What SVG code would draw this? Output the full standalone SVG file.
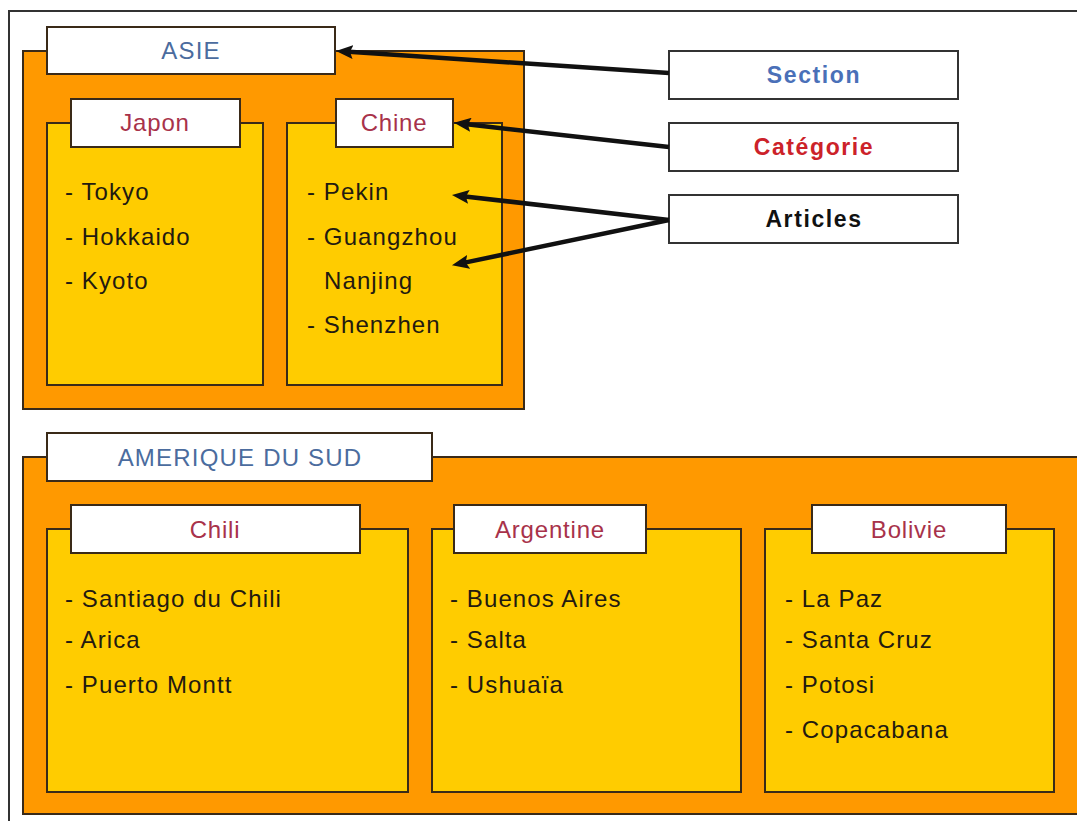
<svg xmlns="http://www.w3.org/2000/svg" width="1077" height="821" viewBox="0 0 1077 821">
<style>
.sec{fill:#ff9900;stroke:#3a2a18;stroke-width:2}
.cat{fill:#ffcc00;stroke:#3a2a18;stroke-width:2}
.lbl{fill:#ffffff;stroke:#3a2a18;stroke-width:2}
.key{fill:#ffffff;stroke:#333333;stroke-width:2}
.tsec{font-family:"Liberation Sans",Arial,sans-serif;font-size:24px;fill:#4b6c9e;letter-spacing:1.2px;text-anchor:middle}
.tcat{font-family:"Liberation Sans",Arial,sans-serif;font-size:24px;fill:#a8324a;letter-spacing:0.8px;text-anchor:middle}
.item{font-family:"Liberation Sans",Arial,sans-serif;font-size:24px;fill:#231a10;letter-spacing:1.1px}
.tkey{font-family:"Liberation Sans",Arial,sans-serif;font-size:23px;font-weight:bold;letter-spacing:1.6px;text-anchor:middle}
.conn{stroke:#111111;stroke-width:4.5;fill:none;marker-end:url(#ah)}
</style>
<defs>
<marker id="ah" markerUnits="userSpaceOnUse" markerWidth="18" markerHeight="14" viewBox="0 0 18 14" refX="4" refY="7" orient="auto">
<path d="M0,0 L17,7 L0,14 L3,7 z" fill="#111111"/>
</marker>
</defs>
<rect x="0" y="0" width="1077" height="821" fill="#ffffff"/>
<rect id="frame" x="9" y="11" width="1100" height="850" fill="none" stroke="#333333" stroke-width="2"/>

<g id="asie">
<rect class="sec" x="23" y="51" width="501" height="358"/>
<rect class="lbl" x="47" y="27" width="288" height="47"/>
<text class="tsec" x="191" y="59">ASIE</text>
</g>
<g id="japon">
<rect class="cat" x="47" y="123" width="216" height="262"/>
<rect class="lbl" x="71" y="99" width="169" height="48"/>
<text class="tcat" x="155" y="131">Japon</text>
<text class="item" x="65" y="200">- Tokyo</text>
<text class="item" x="65" y="245">- Hokkaido</text>
<text class="item" x="65" y="289">- Kyoto</text>
</g>
<g id="chine">
<rect class="cat" x="287" y="123" width="215" height="262"/>
<rect class="lbl" x="336" y="99" width="117" height="48"/>
<text class="tcat" x="394" y="131">Chine</text>
<text class="item" x="307" y="200">- Pekin</text>
<text class="item" x="307" y="245">- Guangzhou</text>
<text class="item" x="324" y="289">Nanjing</text>
<text class="item" x="307" y="333">- Shenzhen</text>
</g>

<g id="amerique">
<rect class="sec" x="23" y="457" width="1070" height="357"/>
<rect class="lbl" x="47" y="433" width="385" height="48"/>
<text class="tsec" x="240" y="466">AMERIQUE DU SUD</text>
</g>
<g id="chili">
<rect class="cat" x="47" y="529" width="361" height="263"/>
<rect class="lbl" x="71" y="505" width="289" height="48"/>
<text class="tcat" x="215" y="538">Chili</text>
<text class="item" x="65" y="607">- Santiago du Chili</text>
<text class="item" x="65" y="648">- Arica</text>
<text class="item" x="65" y="693">- Puerto Montt</text>
</g>
<g id="argentine">
<rect class="cat" x="432" y="529" width="309" height="263"/>
<rect class="lbl" x="454" y="505" width="192" height="48"/>
<text class="tcat" x="550" y="538">Argentine</text>
<text class="item" x="450" y="607">- Buenos Aires</text>
<text class="item" x="450" y="648">- Salta</text>
<text class="item" x="450" y="693">- Ushuaïa</text>
</g>
<g id="bolivie">
<rect class="cat" x="765" y="529" width="289" height="263"/>
<rect class="lbl" x="812" y="505" width="194" height="48"/>
<text class="tcat" x="909" y="538">Bolivie</text>
<text class="item" x="785" y="607">- La Paz</text>
<text class="item" x="785" y="648">- Santa Cruz</text>
<text class="item" x="785" y="693">- Potosi</text>
<text class="item" x="785" y="738">- Copacabana</text>
</g>

<g id="key-section">
<rect class="key" x="669" y="51" width="289" height="48"/>
<text class="tkey" x="814" y="83" fill="#4a70b8">Section</text>
</g>
<g id="key-categorie">
<rect class="key" x="669" y="123" width="289" height="48"/>
<text class="tkey" x="814" y="155" fill="#cc2229">Catégorie</text>
</g>
<g id="key-articles">
<rect class="key" x="669" y="195" width="289" height="48"/>
<text class="tkey" x="814" y="227" fill="#111111">Articles</text>
</g>

<g id="connectors">
<line class="conn" x1="669" y1="73" x2="349" y2="51.8"/>
<line class="conn" x1="669" y1="147" x2="466.9" y2="124.3"/>
<line class="conn" x1="669" y1="220" x2="464.9" y2="196.4"/>
<line class="conn" x1="669" y1="220" x2="464.7" y2="262.6"/>
</g>
</svg>
